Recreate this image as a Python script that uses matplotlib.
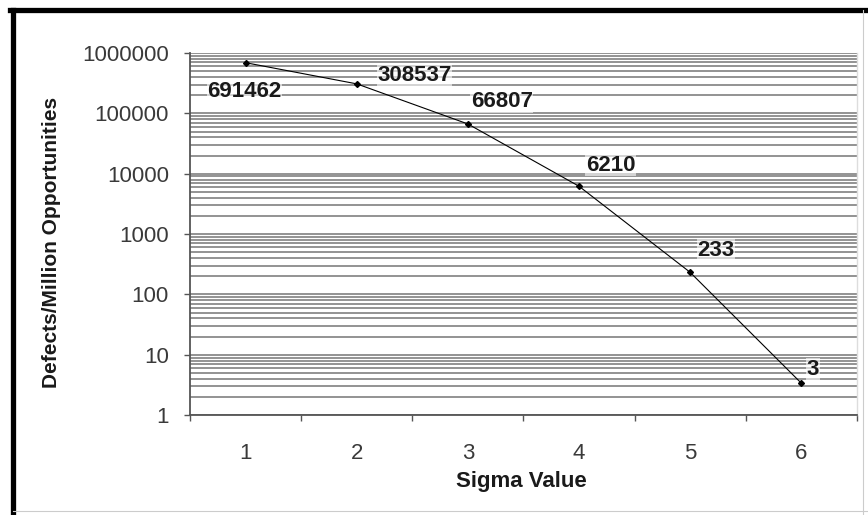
import matplotlib
matplotlib.use("Agg")
import matplotlib.pyplot as plt
from matplotlib.lines import Line2D
from matplotlib.ticker import LogLocator, NullFormatter

# данные
sigma = [1, 2, 3, 4, 5, 6]
dpmo = [691462, 308537, 66807, 6210, 233, 3.4]
point_labels = ["691462", "308537", "66807", "6210", "233", "3"]
label_offsets = [(-1, -21), (15, 6), (2, 16), (5, 15), (5, 16), (4, 10)]
label_ha = ["center", "left", "left", "left", "left", "left"]

y_ticks = [1, 10, 100, 1000, 10000, 100000, 1000000]
y_tick_labels = ["1", "10", "100", "1000", "10000", "100000", "1000000"]
x_bounds = [0.5, 1.5, 2.5, 3.5, 4.5, 5.5, 6.5]

plt.rcParams["font.family"] = ["Liberation Sans", "DejaVu Sans"]

fig = plt.figure(figsize=(8.68, 5.15), dpi=100)
ax = fig.add_axes([0.219, 0.194, 0.768, 0.703])

ax.set_yscale("log")
ax.set_ylim(1, 1000000)
ax.set_xlim(0.5, 6.5)

# сетка
ax.yaxis.set_minor_locator(LogLocator(base=10, subs=range(2, 10), numticks=20))
ax.yaxis.set_minor_formatter(NullFormatter())
ax.grid(axis="y", which="both", color="#858585", linewidth=1.25, zorder=0)
ax.set_axisbelow(True)

ax.plot(sigma, dpmo, color="black", linewidth=0.8, marker="D", markersize=3,
        zorder=3)

for x, y, t, off, ha in zip(sigma, dpmo, point_labels, label_offsets, label_ha):
    ax.annotate(t, (x, y), xytext=off, textcoords="offset points", ha=ha,
                va="center", fontsize=16, fontweight="bold", color="#1a1a1a",
                bbox=dict(facecolor="white", edgecolor="none", pad=0.3, alpha=0.6),
                zorder=4)

ax.set_yticks(y_ticks)
ax.set_yticklabels(y_tick_labels)
ax.tick_params(axis="y", which="major", direction="out", length=4.3, width=1,
               color="#555555", pad=11, labelsize=16, labelcolor="#3a3a3a")
ax.tick_params(axis="y", which="minor", length=0)

ax.set_xticks(sigma)
ax.set_xticklabels([str(s) for s in sigma])
ax.set_xticks(x_bounds, minor=True)
ax.tick_params(axis="x", which="major", length=0, pad=20, labelsize=16,
               labelcolor="#3a3a3a")
ax.tick_params(axis="x", which="minor", direction="out", length=4, width=1,
               color="#555555")

for side in ["left", "bottom"]:
    ax.spines[side].set_color("#555555")
    ax.spines[side].set_linewidth(1.3)
ax.spines["top"].set_visible(False)
ax.spines["right"].set_color("#dddddd")
ax.spines["right"].set_linewidth(1)

fig.text(52 / 868, 1 - 242 / 515, "Defects/Million Opportunities", rotation=90,
         ha="center", va="center", fontsize=15, fontweight="bold", color="#1a1a1a")
fig.text(521 / 868, 1 - 482 / 515, "Sigma Value", ha="center", va="center",
         fontsize=16, fontweight="bold", color="#1a1a1a")

# рамка вокруг рисунка
fig.add_artist(Line2D([10 / 868, 1], [1 - 9.5 / 515] * 2, color="black", lw=3.8))
fig.add_artist(Line2D([12.5 / 868] * 2, [0, 1 - 9.5 / 515], color="black", lw=3.8))
fig.add_artist(Line2D([863 / 868] * 2, [0, 1 - 9.5 / 515], color="#cccccc", lw=0.8))
fig.add_artist(Line2D([12.5 / 868, 1], [1 - 511 / 515] * 2, color="#cccccc", lw=0.8))

fig.savefig("out.png", dpi=100)
